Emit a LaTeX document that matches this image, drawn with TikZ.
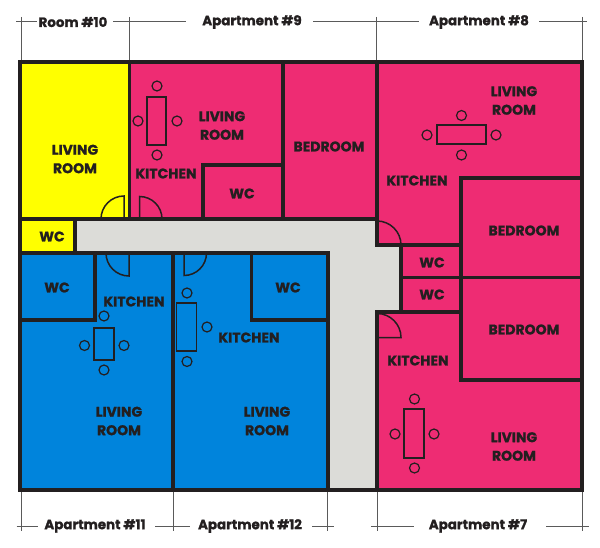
\documentclass[tikz,border=0pt]{standalone}
\usepackage{fontspec}
\setmainfont{Poppins}[BoldFeatures={FakeBold=1.2}]
\definecolor{wallc}{HTML}{231F20}
\definecolor{pinkc}{HTML}{EE2C73}
\definecolor{bluec}{HTML}{0084DC}
\definecolor{yellowc}{HTML}{FFFF00}
\definecolor{greyc}{HTML}{DCDCD8}
\definecolor{dimc}{HTML}{5A5A5A}
\tikzset{
  wall/.style={draw=wallc,line width=3.2pt,line cap=rect},
  outer/.style={draw=wallc,line width=3.8pt,line join=miter},
  door/.style={draw=wallc,line width=1.5pt},
  furn/.style={draw=wallc,line width=1.2pt},
  dim/.style={draw=dimc,line width=0.7pt},
  room/.style={text=wallc,inner sep=0pt,align=center,font=\bfseries\fontsize{14}{18.5}\selectfont},
  apt/.style={text=wallc,inner sep=0pt,font=\bfseries\fontsize{13.4}{14}\selectfont},
}
\newcommand{\chair}[2]{\draw[furn] (#1,#2) circle[radius=5];}
\begin{document}
\begin{tikzpicture}[x=1pt,y=-1pt]
\useasboundingbox (0,0) rectangle (600,548);
\fill[white] (0,0) rectangle (600,548);
% fills
\fill[yellowc] (20,62) rectangle (129.5,253);
\fill[pinkc] (129.5,62) rectangle (377,219);
\fill[pinkc] (377,62) rectangle (582,490);
\fill[bluec] (20,253) rectangle (328,490);
\fill[greyc] (75,219) -- (377,219) -- (377,245) -- (401,245) -- (401,312) -- (377,312) -- (377,490) -- (328,490) -- (328,253) -- (75,253) -- cycle;
% dimension lines
\draw[dim] (21,17) -- (21,62) (129,17) -- (129,62) (376.5,17) -- (376.5,62) (582,17) -- (582,62);
\draw[dim] (16,21.5) -- (37,21.5) (113,21.5) -- (186,21.5) (313,21.5) -- (419,21.5) (539,21.5) -- (587,21.5);
\draw[dim] (21,490) -- (21,531) (173,490) -- (173,531) (327,490) -- (327,531) (377.5,490) -- (377.5,531) (582,490) -- (582,531);
\draw[dim] (16.5,526) -- (38,526) (155,526) -- (190,526) (312,526) -- (334,526) (371,526) -- (414,526) (546,526) -- (589,526);
% walls
\draw[wall] (129.5,62) -- (129.5,219);
\draw[wall] (20,219) -- (377,219);
\draw[wall] (75,219) -- (75,253);
\draw[wall] (20,253) -- (328,253) -- (328,490);
\draw[wall] (173,253) -- (173,490);
\draw[wall] (95,253) -- (95,320) -- (20,320);
\draw[wall] (251.5,253) -- (251.5,320) -- (328,320);
\draw[wall] (283,62) -- (283,219);
\draw[wall] (203,219) -- (203,165) -- (283,165);
\draw[wall] (377,62) -- (377,245) -- (461,245);
\draw[wall] (461,178) -- (461,380);
\draw[wall] (461,178) -- (582,178);
\draw[wall] (401,277.5) -- (582,277.5);
\draw[wall] (401,245) -- (401,312);
\draw[wall] (377,490) -- (377,312) -- (461,312);
\draw[wall] (461,380) -- (582,380);
\draw[outer] (20,62) rectangle (582,490);
% doors
\draw[door] (101,219) arc[start angle=180,end angle=270,radius=23] -- (124,219);
\draw[door] (139.5,219) -- (139.5,196.5) arc[start angle=270,end angle=360,radius=22.5];
\draw[door] (106,253) arc[start angle=180,end angle=90,radius=23] -- (129,253);
\draw[door] (184,253) -- (184,275.5) arc[start angle=90,end angle=0,radius=22.5];
\draw[door] (377,221) arc[start angle=270,end angle=360,radius=24];
\draw[door] (377,313.5) arc[start angle=270,end angle=360,radius=24] -- (377,337.5);
% furniture
\draw[furn] (147,97) rectangle (166,145);
\chair{157}{86}\chair{157}{155}\chair{138}{121}\chair{177}{121}
\draw[furn] (437,125) rectangle (486,144);
\chair{461.5}{115.5}\chair{461.5}{155}\chair{427}{135}\chair{496}{135}
\draw[furn] (94,328) rectangle (114,360);
\chair{104}{316}\chair{104}{370}\chair{84.5}{345.5}\chair{124}{345.5}
\draw[furn] (176.5,303) rectangle (196.5,351);
\chair{187}{293}\chair{187}{361.5}\chair{207}{327}
\draw[furn] (404,409) rectangle (424,458);
\chair{414.5}{399}\chair{414.5}{468}\chair{395}{434}\chair{434}{434}
% labels
\node[apt] (t10) at (73,22) {Room \#10};
\node[apt] (t9) at (252,22) {Apartment \#9};
\node[apt] (t8) at (479,22) {Apartment \#8};
\node[apt] (t11) at (95,526) {Apartment \#11};
\node[apt] (t12) at (250,526) {Apartment \#12};
\node[apt] (t7) at (478,526) {Apartment \#7};
\node[room] (r1) at (75,159) {LIVING\\ROOM};
\node[room] (r2) at (52,236.5) {WC};
\node[room] (r3) at (222,125.5) {LIVING\\ROOM};
\node[room] (r4) at (166,173.5) {KITCHEN};
\node[room] (r5) at (242,193.5) {WC};
\node[room] (r6) at (329,146.5) {BEDROOM};
\node[room] (r7) at (514,100.5) {LIVING\\ROOM};
\node[room] (r8) at (417,180.5) {KITCHEN};
\node[room] (r9) at (524,230.5) {BEDROOM};
\node[room] (r10) at (432,262.5) {WC};
\node[room] (r11) at (432,294.5) {WC};
\node[room] (r12) at (524,329.5) {BEDROOM};
\node[room] (r13) at (418,360.5) {KITCHEN};
\node[room] (r14) at (514,446.5) {LIVING\\ROOM};
\node[room] (r15) at (57,287.5) {WC};
\node[room] (r16) at (134,301.5) {KITCHEN};
\node[room] (r17) at (119,421) {LIVING\\ROOM};
\node[room] (r18) at (249,337.5) {KITCHEN};
\node[room] (r19) at (288,287.5) {WC};
\node[room] (r20) at (267,421) {LIVING\\ROOM};
\end{tikzpicture}
\end{document}
